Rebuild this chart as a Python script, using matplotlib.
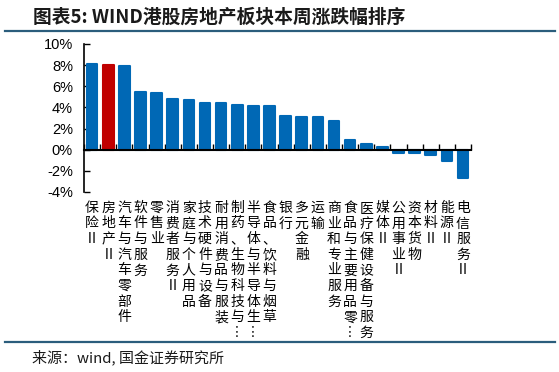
import matplotlib
matplotlib.use('Agg')
import matplotlib.pyplot as plt
from matplotlib.lines import Line2D
from matplotlib.ticker import FuncFormatter

plt.rcParams['font.family'] = ['Noto Sans CJK SC', 'DejaVu Sans']

# WIND 港股行业周涨跌幅（%），按涨幅排序
sectors = ['保险Ⅱ', '房地产Ⅱ', '汽车与汽车零部件', '软件与服务', '零售业',
           '消费者服务Ⅱ', '家庭与个人用品', '技术硬件与设备', '耐用消费品与服装',
           '制药、生物科技与︙', '半导体与半导体生︙', '食品、饮料与烟草', '银行',
           '多元金融', '运输', '商业和专业服务', '食品与主要用品零︙',
           '医疗保健设备与服务', '媒体Ⅱ', '公用事业Ⅱ', '资本货物', '材料Ⅱ',
           '能源Ⅱ', '电信服务Ⅱ']
changes = [8.1, 8.0, 7.9, 5.5, 5.4, 4.8, 4.7, 4.4, 4.4, 4.25, 4.1, 4.1,
           3.2, 3.05, 3.05, 2.7, 0.9, 0.55, 0.3, -0.35, -0.35, -0.55, -1.1, -2.7]
highlight = '房地产Ⅱ'
y_ticks = [-4, -2, 0, 2, 4, 6, 8, 10]

BLUE = '#0068B5'
RED = '#C00000'
LINE = '#2B5D7C'

fig = plt.figure(figsize=(5.59, 3.72), dpi=100)
ax = fig.add_axes([0.1503, 0.484, 0.6923, 0.3978])

x = list(range(len(sectors)))
colors = [RED if s == highlight else BLUE for s in sectors]
ax.bar(x, changes, width=0.66, color=colors, edgecolor=colors,
       linewidth=1.5, joinstyle='round', zorder=2)

ax.set_xlim(-0.5, len(sectors) - 0.5)
ax.set_ylim(-4, 10)
ax.set_yticks(y_ticks)
ax.yaxis.set_major_formatter(FuncFormatter(lambda v, p: f'{v:.0f}%'))
ax.tick_params(axis='y', direction='in', length=4, width=1, pad=8,
               labelsize=10.5, labelfontfamily='Liberation Sans')

for s in ['top', 'right']:
    ax.spines[s].set_visible(False)
ax.spines['left'].set_linewidth(1.2)
ax.spines['bottom'].set_position(('data', 0))
ax.spines['bottom'].set_linewidth(1.5)
ax.spines['bottom'].set_zorder(3)
ax.set_xticks([i - 0.5 for i in range(len(sectors) + 1)])
ax.tick_params(axis='x', direction='in', length=4, width=1, labelbottom=False)

# 竖排类别标签
trans = ax.get_xaxis_transform()
for i, name in enumerate(sectors):
    ax.text(i, -0.06, '\n'.join(name), transform=trans, ha='center', va='top',
            fontsize=10, linespacing=1.15, color='black')

# 标题、分隔线与来源
fig.text(0.059, 0.953, '图表5: WIND港股房地产板块本周涨跌幅排序', fontsize=13.5,
         fontweight='bold', color='#1A1A1A', va='center', ha='left')
fig.add_artist(Line2D([0.009, 0.993], [0.917, 0.917], color=LINE, lw=1.6,
                      transform=fig.transFigure))
fig.add_artist(Line2D([0.009, 0.993], [0.081, 0.081], color=LINE, lw=1.6,
                      transform=fig.transFigure))
fig.text(0.057, 0.04, '来源：wind, 国金证券研究所', fontsize=10.8, color='#1A1A1A',
         va='center', ha='left')

fig.savefig('out.png', dpi=100)
